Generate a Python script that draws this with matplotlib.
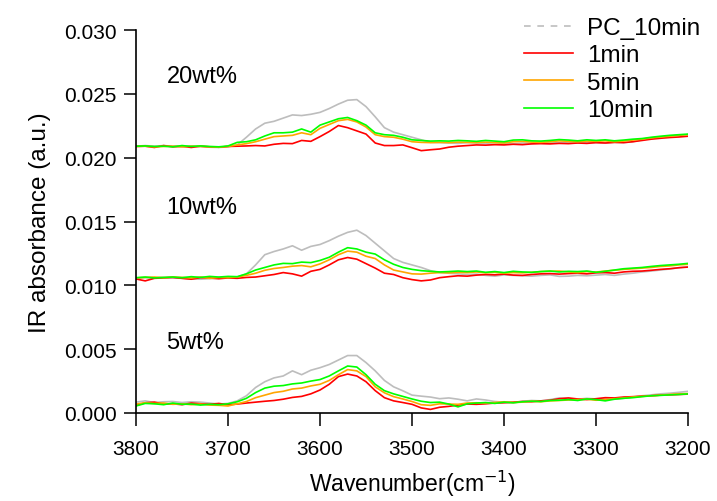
import numpy as np
import matplotlib.pyplot as plt
from matplotlib.lines import Line2D

plt.rcParams['font.family'] = ['Liberation Sans', 'DejaVu Sans']

# wavenumber grid, cm^-1 (3800 -> 3200, step 10)
wavenumber = np.arange(3800, 3190, -10)

# ---- 20wt% ----
pc20 = [.02090, .02095, .02090, .02095, .02090, .02085, .02090, .02088, .02082, .02080,
        .02085, .02100, .02160, .02225, .02270, .02285, .02310, .02335, .02330, .02340,
        .02355, .02385, .02420, .02450, .02455, .02400, .02320, .02235, .02200, .02180,
        .02160, .02140, .02120, .02118, .02115, .02112, .02118, .02115, .02110, .02105,
        .02112, .02108, .02115, .02112, .02120, .02115, .02118, .02120, .02115, .02122,
        .02118, .02115, .02120, .02118, .02125, .02140, .02150, .02160, .02168, .02175,
        .02180]
m1_20 = [.02088, .02090, .02080, .02095, .02085, .02090, .02080, .02090, .02085, .02082,
         .02088, .02090, .02092, .02095, .02092, .02105, .02112, .02110, .02135, .02128,
         .02165, .02205, .02252, .02235, .02210, .02185, .02115, .02095, .02095, .02100,
         .02078, .02055, .02062, .02068, .02082, .02090, .02095, .02100, .02098, .02102,
         .02100, .02105, .02102, .02108, .02110, .02108, .02112, .02110, .02115, .02112,
         .02118, .02115, .02120, .02118, .02125, .02135, .02145, .02152, .02158, .02162,
         .02168]
m5_20 = [.02088, .02090, .02085, .02088, .02090, .02085, .02090, .02088, .02085, .02082,
         .02088, .02100, .02110, .02125, .02145, .02165, .02170, .02175, .02195, .02180,
         .02230, .02260, .02290, .02300, .02280, .02240, .02180, .02165, .02160, .02145,
         .02125, .02120, .02118, .02120, .02118, .02122, .02120, .02118, .02122, .02118,
         .02115, .02125, .02128, .02122, .02120, .02125, .02132, .02128, .02125, .02130,
         .02128, .02132, .02125, .02130, .02138, .02145, .02155, .02162, .02168, .02175,
         .02180]
m10_20 = [.02090, .02092, .02088, .02090, .02085, .02095, .02088, .02092, .02088, .02085,
          .02092, .02120, .02125, .02140, .02170, .02195, .02195, .02200, .02225, .02200,
          .02255, .02280, .02305, .02315, .02290, .02255, .02195, .02180, .02175, .02160,
          .02140, .02135, .02130, .02132, .02130, .02135, .02132, .02128, .02135, .02130,
          .02125, .02138, .02140, .02132, .02130, .02135, .02142, .02138, .02132, .02140,
          .02135, .02140, .02132, .02138, .02145, .02150, .02160, .02168, .02175, .02180,
          .02185]

# ---- 10wt% ----
pc10 = [.01055, .01060, .01058, .01062, .01058, .01055, .01050, .01048, .01052, .01055,
        .01058, .01065, .01090, .01160, .01240, .01265, .01285, .01310, .01275, .01305,
        .01320, .01350, .01385, .01415, .01432, .01390, .01330, .01270, .01210, .01180,
        .01160, .01140, .01115, .01100, .01095, .01090, .01085, .01088, .01078, .01072,
        .01082, .01078, .01075, .01072, .01078, .01082, .01070, .01072, .01078, .01075,
        .01080, .01085, .01078, .01088, .01095, .01105, .01112, .01120, .01128, .01138,
        .01146]
m1_10 = [.01050, .01035, .01055, .01058, .01062, .01055, .01048, .01060, .01058, .01052,
         .01058, .01055, .01062, .01065, .01075, .01085, .01100, .01090, .01072, .01110,
         .01125, .01160, .01200, .01218, .01205, .01170, .01135, .01095, .01085, .01060,
         .01045, .01035, .01042, .01060, .01068, .01075, .01072, .01080, .01085, .01082,
         .01088, .01080, .01078, .01085, .01090, .01092, .01088, .01092, .01095, .01090,
         .01098, .01100, .01095, .01105, .01110, .01112, .01118, .01125, .01130, .01138,
         .01143]
m5_10 = [.01058, .01062, .01065, .01060, .01065, .01062, .01058, .01065, .01055, .01062,
         .01060, .01065, .01078, .01095, .01118, .01132, .01140, .01150, .01155, .01145,
         .01168, .01200, .01240, .01268, .01260, .01228, .01210, .01160, .01120, .01105,
         .01090, .01088, .01095, .01100, .01098, .01102, .01100, .01105, .01098, .01102,
         .01095, .01100, .01098, .01102, .01108, .01110, .01112, .01105, .01100, .01108,
         .01104, .01112, .01118, .01125, .01130, .01135, .01140, .01148, .01152, .01160,
         .01165]
m10_10 = [.01060, .01065, .01058, .01062, .01065, .01060, .01068, .01062, .01070, .01065,
          .01070, .01068, .01090, .01120, .01140, .01160, .01172, .01170, .01182, .01178,
          .01195, .01220, .01260, .01295, .01285, .01260, .01245, .01200, .01165, .01140,
          .01125, .01115, .01110, .01105, .01108, .01112, .01108, .01112, .01102, .01108,
          .01100, .01110, .01105, .01102, .01108, .01112, .01105, .01110, .01108, .01112,
          .01102, .01110, .01120, .01130, .01135, .01140, .01148, .01155, .01160, .01165,
          .01172]

# ---- 5wt% ----
pc5 = [.00085, .00095, .00082, .00088, .00090, .00082, .00088, .00085, .00078, .00070,
       .00075, .00095, .00135, .00200, .00245, .00275, .00290, .00330, .00300, .00335,
       .00355, .00380, .00415, .00450, .00450, .00395, .00330, .00255, .00205, .00174,
       .00140, .00132, .00125, .00112, .00118, .00108, .00095, .00110, .00102, .00090,
       .00085, .00080, .00092, .00098, .00095, .00105, .00118, .00112, .00108, .00115,
       .00110, .00112, .00108, .00115, .00125, .00135, .00142, .00150, .00155, .00162,
       .00170]
m1_5 = [.00060, .00080, .00085, .00070, .00072, .00065, .00078, .00072, .00068, .00075,
        .00065, .00070, .00078, .00085, .00092, .00098, .00108, .00122, .00130, .00150,
        .00180, .00225, .00285, .00305, .00290, .00245, .00175, .00120, .00095, .00082,
        .00068, .00040, .00028, .00045, .00052, .00062, .00070, .00068, .00072, .00078,
        .00080, .00085, .00090, .00088, .00095, .00100, .00112, .00118, .00110, .00105,
        .00112, .00120, .00118, .00125, .00128, .00132, .00135, .00140, .00142, .00145,
        .00148]
m5_5 = [.00070, .00080, .00075, .00078, .00068, .00072, .00065, .00070, .00062, .00060,
        .00055, .00072, .00090, .00120, .00140, .00160, .00170, .00188, .00195, .00212,
        .00225, .00255, .00300, .00340, .00330, .00285, .00205, .00158, .00128, .00110,
        .00090, .00065, .00060, .00072, .00070, .00068, .00078, .00080, .00078, .00082,
        .00088, .00082, .00085, .00092, .00088, .00095, .00098, .00102, .00105, .00108,
        .00100, .00105, .00112, .00118, .00125, .00130, .00135, .00140, .00145, .00150,
        .00152]
m10_5 = [.00055, .00075, .00072, .00065, .00078, .00068, .00070, .00062, .00068, .00065,
         .00072, .00088, .00115, .00160, .00195, .00210, .00215, .00228, .00235, .00250,
         .00262, .00290, .00330, .00368, .00360, .00300, .00225, .00175, .00150, .00130,
         .00110, .00092, .00082, .00085, .00070, .00048, .00072, .00078, .00082, .00075,
         .00085, .00080, .00088, .00092, .00090, .00098, .00100, .00105, .00098, .00110,
         .00105, .00095, .00108, .00115, .00120, .00128, .00135, .00138, .00142, .00145,
         .00150]

groups = [(pc20, m1_20, m5_20, m10_20),
          (pc10, m1_10, m5_10, m10_10),
          (pc5, m1_5, m5_5, m10_5)]
group_labels = ['20wt%', '10wt%', '5wt%']
label_y = [0.0264, 0.0161, 0.00555]

series_names = ['PC_10min', '1min', '5min', '10min']
colors = ['#bdbdbd', '#ff0000', '#ffa500', '#00ff00']

fig = plt.figure(figsize=(7.17, 5.02), dpi=100)
ax = fig.add_axes([0.1897, 0.1753, 0.7699, 0.7629])

for grp in groups:
    for vals, c in zip(grp, colors):
        ax.plot(wavenumber, vals, color=c, lw=1.2)

for txt, y in zip(group_labels, label_y):
    ax.text(3767, y, txt, fontsize=17, ha='left', va='center')

ax.set_xlim(3800, 3200)
ax.set_ylim(0, 0.030)
ax.set_xticks([3800, 3700, 3600, 3500, 3400, 3300, 3200])
ax.set_yticks([0, 0.005, 0.010, 0.015, 0.020, 0.025, 0.030])
ax.yaxis.set_major_formatter(plt.FormatStrFormatter('%.3f'))
for s in ['top', 'right']:
    ax.spines[s].set_visible(False)
for s in ['left', 'bottom']:
    ax.spines[s].set_linewidth(1.2)
ax.tick_params(direction='out', length=9, width=1.1, labelsize=15)
ax.tick_params(axis='x', pad=10)
ax.tick_params(axis='y', pad=5)

ax.set_xlabel('Wavenumber(cm$^{-1}$)', fontsize=16.5, labelpad=7)
ax.set_ylabel('IR absorbance (a.u.)', fontsize=17.5, labelpad=9)

handles = [Line2D([], [], color=colors[0], lw=1.2, ls=(0, (4, 4)))]
handles += [Line2D([], [], color=c, lw=1.2) for c in colors[1:]]
fig.legend(handles, series_names, loc='upper left',
           bbox_to_anchor=(524 / 717, 1 - 18 / 502), frameon=False,
           fontsize=17.5, handlelength=2.0, handletextpad=0.6,
           labelspacing=0.22, borderpad=0, borderaxespad=0)

fig.savefig('out.png', dpi=100)
